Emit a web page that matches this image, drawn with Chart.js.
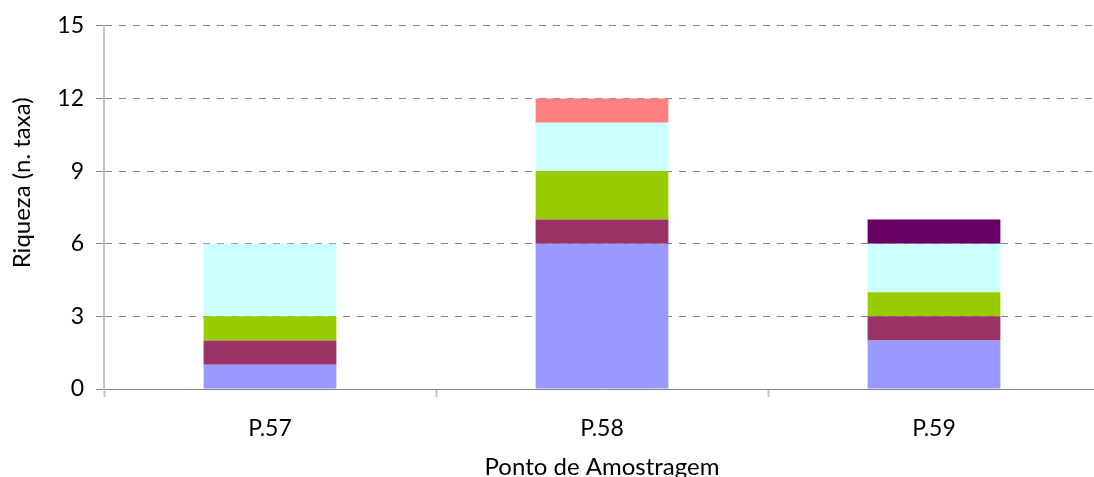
<!DOCTYPE html>
<html>
<head>
<meta charset="utf-8">
<script src="https://cdn.jsdelivr.net/npm/chart.js@4"></script>
<style>
  html, body { margin: 0; padding: 0; background: #fff; overflow: hidden; }
  #wrap { width: 1094px; height: 477px; overflow: hidden; position: relative; }
  canvas { display: block; }
</style>
</head>
<body>
<div id="wrap"><canvas id="c" width="1110" height="490"></canvas></div>
<script>
// Sampling points and the number of taxa per group at each point
const pontos = ['P.57', 'P.58', 'P.59'];
const grupo1 = [1, 6, 2];
const grupo2 = [1, 1, 1];
const grupo3 = [1, 2, 1];
const grupo4 = [3, 2, 2];
const grupo5 = [0, 1, 0];
const grupo6 = [0, 0, 1];
const yTicks = [0, 3, 6, 9, 12, 15];

const cores = ['#9999FF', '#993366', '#99CC00', '#CCFFFF', '#FF8080', '#660066'];
const series = [grupo1, grupo2, grupo3, grupo4, grupo5, grupo6];

const FONT = 'Lato, "Open Sans", sans-serif';

new Chart(document.getElementById('c'), {
  type: 'bar',
  data: {
    labels: pontos,
    datasets: series.map((d, i) => ({
      label: 'Grupo ' + (i + 1),
      data: d,
      backgroundColor: cores[i],
      borderWidth: 0,
      categoryPercentage: 1,
      barPercentage: 0.4
    }))
  },
  options: {
    responsive: false,
    animation: false,
    devicePixelRatio: 1,
    layout: { padding: { top: 11, right: 10, bottom: 0, left: 0 } },
    plugins: { legend: { display: false }, tooltip: { enabled: false } },
    scales: {
      x: {
        stacked: true,
        afterFit: s => { s.height = 101; },
        grid: {
          offset: true,
          drawOnChartArea: false,
          drawTicks: true,
          tickLength: 8,
          tickColor: '#c4c4c4',
          tickWidth: 2
        },
        border: { display: true, color: '#868686', width: 1 },
        ticks: { font: { family: FONT, size: 23 }, color: '#000', padding: 18 },
        title: {
          display: true,
          text: 'Ponto de Amostragem',
          font: { family: FONT, size: 24 },
          color: '#000',
          padding: { top: 0, bottom: 8 }
        }
      },
      y: {
        stacked: true,
        min: 0,
        max: 15,
        afterFit: s => { s.width = 104; },
        afterBuildTicks: s => { s.ticks = yTicks.map(v => ({ value: v })); },
        grid: {
          color: '#868686',
          lineWidth: 1,
          tickBorderDash: [],
          tickLength: 8,
          tickColor: '#868686'
        },
        border: { display: true, color: '#c4c4c4', width: 2, dash: [7, 7] },
        ticks: { font: { family: FONT, size: 23 }, color: '#000', padding: 12 },
        title: {
          display: true,
          // leading spaces lift the rotated label a little above the axis centre
          text: '        Riqueza (n. taxa)',
          font: { family: FONT, size: 24 },
          color: '#000',
          padding: { top: 8, bottom: 0 }
        }
      }
    }
  }
});
</script>
</body>
</html>
